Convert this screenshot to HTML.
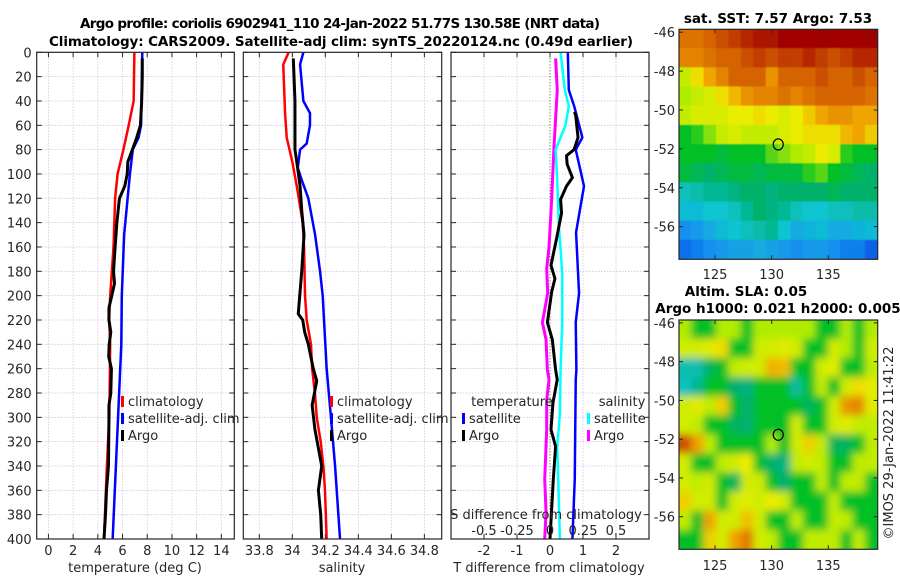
<!DOCTYPE html>
<html><head><meta charset="utf-8">
<style>
html,body{margin:0;padding:0;background:#fff;}
svg{display:block;font-family:"DejaVu Sans","Liberation Sans",sans-serif;}
.tk{font-size:13px;fill:#262626;}
.ttl{font-size:13.5px;font-weight:bold;fill:#000;}
</style></head>
<body>
<svg id="fig" width="900" height="580" viewBox="0 0 900 580" xmlns="http://www.w3.org/2000/svg">
<defs>
<filter id="blurSLA" filterUnits="userSpaceOnUse" x="650" y="290" width="260" height="290"><feGaussianBlur stdDeviation="4"/></filter>
<filter id="blurSST" filterUnits="userSpaceOnUse" x="650" y="0" width="260" height="290"><feGaussianBlur stdDeviation="0.6"/></filter>
<clipPath id="clipM1"><rect x="679" y="29" width="199" height="230"/></clipPath>
<clipPath id="clipM2"><rect x="679" y="320" width="199" height="229"/></clipPath>
</defs>
<text class="ttl" x="340" y="28" text-anchor="middle" textLength="520">Argo profile: coriolis 6902941_110 24-Jan-2022 51.77S 130.58E (NRT data)</text>
<text class="ttl" x="341" y="46" text-anchor="middle" textLength="584">Climatology: CARS2009. Satellite-adj clim: synTS_20220124.nc (0.49d earlier)</text>
<g id="layer"></g>
</svg>
<script>
// ---------- Panel 1: temperature ----------
const tempClimDepth=[0,40,60,80,100,120,160,200,220,240,300,340,400];
const tempClim=[6.96,6.9,6.5,6.07,5.6,5.4,5.27,5.0,4.92,5.0,4.93,4.73,4.5];
const tempSatDepth=[0,60,70,80,100,150,200,240,400];
const tempSat=[7.6,7.5,7.3,6.83,6.6,6.13,5.94,5.9,5.2];
const tempArgoDepth=[5,20,40,60,70,80,90,100,110,120,140,160,180,190,200,210,220,230,240,250,260,280,290,300,340,360,380,400];
const tempArgo=[7.6,7.6,7.55,7.45,7.15,6.8,6.43,6.38,6.18,5.75,5.54,5.4,5.27,5.35,5.13,4.9,4.9,5.05,4.92,4.88,5.1,5.05,4.9,4.9,4.86,4.7,4.62,4.5];
const tempTicks=[0,2,4,6,8,10,12,14];
// ---------- Panel 2: salinity ----------
const salClimDepth=[0,10,50,70,90,110,140,160,200,220,240,260,280,300,320,340,360,400];
const salClim=[33.978,33.945,33.956,33.966,34.0,34.027,34.063,34.071,34.077,34.087,34.113,34.12,34.137,34.148,34.172,34.188,34.198,34.208];
const salSatDepth=[0,10,40,50,60,75,80,95,105,120,150,180,200,240,260,300,340,380,400];
const salSat=[34.067,34.047,34.067,34.107,34.107,34.087,34.047,34.033,34.057,34.097,34.138,34.168,34.184,34.2,34.208,34.234,34.259,34.279,34.289];
const salArgoDepth=[5,40,80,90,110,130,150,180,200,215,220,230,240,260,270,290,310,340,360,380,400];
const salArgo=[34.006,34.016,34.016,34.027,34.047,34.057,34.071,34.057,34.045,34.036,34.063,34.075,34.097,34.127,34.148,34.12,34.137,34.178,34.158,34.172,34.178];
const salTicks=[33.8,34,34.2,34.4,34.6,34.8];
const salTickLabels=["33.8","34","34.2","34.4","34.6","34.8"];
// ---------- Panel 3: differences ----------
const tDiffSatDepth=[0,31,44,70,80,110,148,198,222,261,269,351,400];
const tDiffSat=[0.54,0.57,0.73,0.98,0.78,1.03,0.79,0.88,0.78,0.8,0.78,0.75,0.68];
const tDiffArgoDepth=[49,52,70,80,85,92,103,110,121,132,153,175,186,197,222,236,261,269,288,310,324,351,400];
const tDiffArgo=[0.74,0.78,0.85,0.73,0.5,0.52,0.68,0.5,0.32,0.35,0.2,0.03,0.15,0.05,-0.08,0.07,0.17,0.22,0.09,0.03,0.17,0.1,0.0];
const sDiffSatDepth=[0,31,44,60,80,105,143,181,222,261,297,324,400];
const sDiffSat=[0.08,0.1125,0.1425,0.1175,0.0425,0.055,0.0675,0.0925,0.0925,0.08,0.075,0.055,0.075];
const sDiffArgoDepth=[5,31,78,121,160,178,198,222,236,261,269,286,310,351,378,400];
const sDiffArgo=[0.0425,0.055,0.03,0.0125,-0.0075,-0.025,-0.0175,-0.0575,-0.03,-0.02,-0.0075,-0.025,-0.025,-0.04,-0.03,-0.04];
const tDiffTicks=[-2,-1,0,1,2];
const sDiffTicks=[-0.5,-0.25,0,0.25,0.5];
const depthTicks=[0,20,40,60,80,100,120,140,160,180,200,220,240,260,280,300,320,340,360,380,400];
// ---------- Maps ----------
const mapLonTicks=[125,130,135];
const mapLatTicks=[-46,-48,-50,-52,-54,-56];
const argoLon=130.58, argoLat=-51.77;
const sstGrid=[
[8.9,8.9,9.0,9.1,9.2,9.3,9.4,9.4,9.5,9.5,9.5,9.5,9.5,9.5,9.5,9.5],
[8.8,8.8,8.9,9.0,9.0,9.1,9.2,9.1,9.2,9.2,9.3,9.2,9.1,9.2,9.3,9.3],
[8.0,8.3,8.6,8.8,9.0,9.0,9.0,8.7,9.0,9.0,9.0,9.1,9.0,9.0,9.1,9.0],
[7.9,8.0,8.1,8.3,8.5,8.7,8.8,8.8,8.9,8.8,8.9,9.0,9.0,9.0,9.0,8.9],
[8.0,8.1,8.1,8.1,8.2,8.2,8.3,8.2,8.1,8.2,8.4,8.6,8.7,8.7,8.6,8.6],
[7.5,7.6,7.8,8.0,8.1,8.0,8.0,8.0,8.1,8.2,8.3,8.3,8.3,8.5,8.6,8.4],
[7.5,7.5,7.5,7.4,7.5,7.5,7.5,7.7,7.8,7.9,8.0,8.2,8.1,7.6,7.5,7.5],
[7.4,7.3,7.2,7.3,7.4,7.4,7.3,7.4,7.4,7.4,7.6,7.7,7.5,7.4,7.3,7.2],
[6.8,6.9,7.0,7.0,7.1,7.2,7.2,7.1,7.2,7.2,7.2,7.2,7.3,7.2,7.2,7.2],
[6.6,6.6,6.7,6.7,6.8,7.0,7.2,7.1,7.0,6.8,6.7,6.7,6.8,6.8,6.9,6.9],
[6.1,6.2,6.4,6.6,6.7,6.8,6.9,7.0,6.7,6.4,6.5,6.6,6.4,6.4,6.5,6.6],
[5.9,6.0,6.1,6.2,6.3,6.3,6.4,6.3,6.2,6.1,6.2,6.2,6.1,6.0,6.0,5.8]];
const slaGrid=[
[0.05,0.0,0.0,0.05,0.05,0.0,0.05,0.05,0.05,0.05,0.05,0.0,0.0,0.05,0.0,0.05],
[0.07,0.07,0.08,0.1,0.0,0.0,0.07,0.07,0.08,0.07,0.0,0.0,0.07,0.05,0.0,0.07],
[-0.08,-0.08,-0.03,0.0,0.06,0.07,0.07,0.13,0.12,0.0,0.0,0.07,0.08,0.0,0.0,0.06],
[-0.09,-0.06,0.0,0.0,-0.04,-0.05,0.0,0.0,0.0,-0.07,0.0,0.06,0.0,0.07,0.1,0.08],
[0.07,0.08,0.06,0.11,0.0,-0.04,0.0,0.0,0.0,0.0,-0.03,0.0,0.07,0.15,0.16,0.08],
[0.07,0.06,0.0,0.0,-0.03,-0.04,0.0,0.0,0.0,0.07,0.0,0.0,0.07,0.08,0.06,0.06],
[0.2,0.14,0.06,0.0,0.0,0.0,0.0,0.05,0.0,0.07,0.11,0.06,-0.03,-0.03,0.0,0.06],
[0.07,0.0,0.0,0.06,0.07,0.09,0.0,-0.04,-0.05,0.06,0.07,0.06,0.0,0.0,0.06,0.06],
[0.07,0.06,0.07,0.0,-0.03,0.07,0.07,0.0,-0.04,0.0,0.0,0.06,0.0,0.06,0.06,0.0],
[0.11,0.07,0.07,0.0,0.07,0.08,0.07,0.09,0.07,0.0,0.0,0.0,0.06,0.0,0.0,0.0],
[0.06,0.0,0.14,0.07,0.07,0.12,0.07,0.0,0.0,0.06,0.0,0.0,0.06,0.06,0.0,0.0],
[0.0,0.0,0.11,0.07,0.14,0.17,0.07,0.06,0.0,0.0,0.06,0.06,0.06,0.0,0.06,0.0]];

const NS="http://www.w3.org/2000/svg";
const layer=document.getElementById('layer');
function mk(tag,attrs,parent){const e=document.createElementNS(NS,tag);for(const k in attrs)e.setAttribute(k,attrs[k]);(parent||layer).appendChild(e);return e;}

const Y0=52.3,Y1=539;
function yD(d){return Y0+(d/400)*(Y1-Y0);}

function makePanel(name,x0,x1,xmin,xmax){
  const g=mk('g',{});
  
  
  const xs=v=>x0+(v-xmin)/(xmax-xmin)*(x1-x0);
  return {g,xs,x0,x1};
}
function gridAndFrame(p,xt,showYLabels){
  depthTicks.forEach(d=>{
    const l=mk('line',{x1:p.x0,x2:p.x1,y1:yD(d),y2:yD(d),stroke:'#c0c4ec','stroke-width':0.8,'stroke-dasharray':'1.5,1.5'},p.g);
    
    
    mk('line',{x1:p.x0,x2:p.x0+5,y1:yD(d),y2:yD(d),stroke:'#262626','stroke-width':1},p.g);
    mk('line',{x1:p.x1-5,x2:p.x1,y1:yD(d),y2:yD(d),stroke:'#262626','stroke-width':1},p.g);
    if(showYLabels){
      const t=mk('text',{x:p.x0-5,y:yD(d)+5,'text-anchor':'end',class:'tk'},p.g);
      t.textContent=d;
      
      
    }
  });
  xt.forEach(v=>{
    const x=p.xs(v);
    const l=mk('line',{x1:x,x2:x,y1:Y0,y2:Y1,stroke:'#d8c4d4','stroke-width':0.8,'stroke-dasharray':'1.5,1.5'},p.g);
    
    
    mk('line',{x1:x,x2:x,y1:Y0,y2:Y0+5,stroke:'#262626','stroke-width':1},p.g);
    mk('line',{x1:x,x2:x,y1:Y1-5,y2:Y1,stroke:'#262626','stroke-width':1},p.g);
  });
}
function frame(p){
  const r=mk('rect',{x:p.x0,y:Y0,width:p.x1-p.x0,height:Y1-Y0,fill:'none',stroke:'#262626','stroke-width':1.2},p.g);
  
  
}
function xLabels(p,vals,labels,y){
  vals.forEach((v,i)=>{
    const t=mk('text',{x:p.xs(v),y:y,'text-anchor':'middle',class:'tk'},p.g);
    t.textContent=labels?labels[i]:String(v);
    
    
  });
}
function series(p,depths,vals,color,w,name,scale){
  const pts=depths.map((d,i)=>p.xs(vals[i]*(scale||1)).toFixed(2)+','+yD(d).toFixed(2)).join(' ');
  const pl=mk('polyline',{points:pts,fill:'none',stroke:color,'stroke-width':w,'stroke-linejoin':'round'},p.g);
  
  
}
function legendEntry(g,x,y,color,label,name){
  const e=mk('g',{},g);
  
  
  mk('rect',{x:x,y:y-10,width:3,height:11,fill:color},e);
  const t=mk('text',{x:x+7,y:y,class:'tk'},e);
  t.textContent=label;
}
function axTitle(g,x,y,txt,name){
  const t=mk('text',{x:x,y:y,'text-anchor':'middle',class:'tk'},g);
  t.textContent=txt;
  
  
}

// Panel 1
const p1=makePanel('temperature-panel',36.7,234.3,-0.95,15.05);
gridAndFrame(p1,tempTicks,true);
series(p1,tempClimDepth,tempClim,'#ff0000',2.5,'temp-climatology-line');
series(p1,tempSatDepth,tempSat,'#0000ff',2.5,'temp-satellite-line');
series(p1,tempArgoDepth,tempArgo,'#000000',3,'temp-argo-line');
frame(p1);
xLabels(p1,tempTicks,null,555);
axTitle(p1.g,135,572,'temperature (deg C)','temperature-axis-title');
legendEntry(p1.g,121,406,'#ff0000','climatology','legend-climatology');
legendEntry(p1.g,121,423,'#0000ff','satellite-adj. clim','legend-satellite');
legendEntry(p1.g,121,440,'#000000','Argo','legend-argo');

// Panel 2
const p2=makePanel('salinity-panel',243.3,441.7,33.703,34.905);
gridAndFrame(p2,salTicks,false);
series(p2,salClimDepth,salClim,'#ff0000',2.5,'sal-climatology-line');
series(p2,salSatDepth,salSat,'#0000ff',2.5,'sal-satellite-line');
series(p2,salArgoDepth,salArgo,'#000000',3,'sal-argo-line');
frame(p2);
xLabels(p2,salTicks,salTickLabels,555);
axTitle(p2.g,342,572,'salinity','salinity-axis-title');
legendEntry(p2.g,330,406,'#ff0000','climatology','legend-climatology');
legendEntry(p2.g,330,423,'#0000ff','satellite-adj. clim','legend-satellite');
legendEntry(p2.g,330,440,'#000000','Argo','legend-argo');

// Panel 3
const p3=makePanel('difference-panel',451,649,-3,3);
gridAndFrame(p3,tDiffTicks,false);
const zl=mk('line',{x1:p3.xs(0),x2:p3.xs(0),y1:Y0,y2:Y1,stroke:'#556b2f','stroke-width':1,'stroke-dasharray':'1,2'},p3.g);


series(p3,sDiffArgoDepth,sDiffArgo,'#ff00ff',3,'sdiff-argo-line',4);
series(p3,sDiffSatDepth,sDiffSat,'#00ffff',2.5,'sdiff-satellite-line',4);
series(p3,tDiffSatDepth,tDiffSat,'#0000ff',2.5,'tdiff-satellite-line');
series(p3,tDiffArgoDepth,tDiffArgo,'#000000',3,'tdiff-argo-line');
frame(p3);
xLabels(p3,tDiffTicks,null,555);
axTitle(p3.g,549,572,'T difference from climatology','tdiff-axis-title');
axTitle(p3.g,546,519,'S difference from climatology','sdiff-axis-title');
sDiffTicks.forEach(v=>{
  const t=mk('text',{x:p3.xs(v*4),y:535,'text-anchor':'middle',class:'tk'},p3.g);
  t.textContent=String(v);
  
  
});
axTitle(p3.g,512,406,'temperature','legend-temperature-heading');
axTitle(p3.g,622,406,'salinity','legend-salinity-heading');
legendEntry(p3.g,462,423,'#0000ff','satellite','legend-t-satellite');
legendEntry(p3.g,462,440,'#000000','Argo','legend-t-argo');
legendEntry(p3.g,587,423,'#00ffff','satellite','legend-s-satellite');
legendEntry(p3.g,587,440,'#ff00ff','Argo','legend-s-argo');

// colormap
const cstops=[[0,[0,48,224]],[0.15,[20,144,240]],[0.3,[16,196,208]],[0.42,[0,176,112]],[0.5,[0,192,40]],[0.6,[176,236,0]],[0.68,[240,236,0]],[0.78,[240,160,0]],[0.88,[212,96,0]],[1,[160,0,0]]];
function cmap(t){t=Math.max(0,Math.min(1,t));for(let i=1;i<cstops.length;i++){if(t<=cstops[i][0]){const a=cstops[i-1],b=cstops[i];const f=(t-a[0])/(b[0]-a[0]);const c=a[1].map((v,k)=>Math.round(v+(b[1][k]-v)*f));return 'rgb('+c.join(',')+')';}}return 'rgb(160,0,0)';}

function makeMap(name,top,bottom,grid,vmin,vmax,filt,clip,lonLabelY){
  const x0=679,x1=877.7,lonMin=121.82,lonMax=139.36,latTop=-45.85;
  const latBot=-57.68;
  const xs=lon=>x0+(lon-lonMin)/(lonMax-lonMin)*(x1-x0);
  const ys=lat=>top+(lat-latTop)/(latBot-latTop)*(bottom-top);
  const g=mk('g',{});
  
  
  const cells=mk('g',{'clip-path':'url(#'+clip+')'},g);
  const img=mk('g',{filter:'url(#'+filt+')'},cells);
  const nr=grid.length,nc=grid[0].length;
  const dLat=(latBot-latTop)/nr,dLon=(lonMax-lonMin)/nc;
  grid.forEach((row,r)=>row.forEach((v,c)=>{
    let xa=xs(lonMin+c*dLon),xb=xs(lonMin+(c+1)*dLon),ya=ys(latTop+r*dLat),yb=ys(latTop+(r+1)*dLat);
    if(c===0)xa-=15; if(c===nc-1)xb+=15; if(r===0)ya-=15; if(r===nr-1)yb+=15;
    const rc=mk('rect',{x:xa-0.3,y:ya-0.3,width:xb-xa+0.6,height:yb-ya+0.6,fill:cmap((v-vmin)/(vmax-vmin))},img);
    
    
  }));
  const fr=mk('rect',{x:x0,y:top,width:x1-x0,height:bottom-top,fill:'none',stroke:'#262626','stroke-width':1.2},g);
  
  
  mapLatTicks.forEach(lat=>{
    const y=ys(lat);
    mk('line',{x1:x0,x2:x0+4,y1:y,y2:y,stroke:'#262626'},g);
    mk('line',{x1:x1-4,x2:x1,y1:y,y2:y,stroke:'#262626'},g);
    const t=mk('text',{x:x0-4,y:y+5,'text-anchor':'end',class:'tk'},g);
    t.textContent=String(lat);
    
    
  });
  mapLonTicks.forEach(lon=>{
    const x=xs(lon);
    mk('line',{x1:x,x2:x,y1:top,y2:top+4,stroke:'#262626'},g);
    mk('line',{x1:x,x2:x,y1:bottom-4,y2:bottom,stroke:'#262626'},g);
    const t=mk('text',{x:x,y:lonLabelY,'text-anchor':'middle',class:'tk'},g);
    t.textContent=String(lon);
    
    
  });
  const c=mk('ellipse',{cx:xs(argoLon),cy:ys(argoLat),rx:5,ry:5.5,fill:'none',stroke:'#000','stroke-width':1.2},g);
  
  
  return g;
}
makeMap('sst-map',29.3,259.3,sstGrid,5.5,9.5,'blurSST','clipM1',279);
makeMap('sla-map',320,549.3,slaGrid,-0.25,0.25,'blurSLA','clipM2',570);

function title(x,y,txt,name){
  const t=mk('text',{x:x,y:y,'text-anchor':'middle',class:'ttl'});
  t.textContent=txt;
  
  
}
title(778,23,'sat. SST: 7.57 Argo: 7.53','sst-map-title');
title(746,296,'Altim. SLA: 0.05','sla-map-title');
title(778,313,'Argo h1000: 0.021 h2000: 0.005','sla-map-subtitle');
const cr=mk('text',{x:0,y:0,'text-anchor':'middle',class:'tk',transform:'translate(893,443) rotate(-90)'});
cr.textContent='©IMOS 29-Jan-2022 11:41:22';


</script>
</body></html>
